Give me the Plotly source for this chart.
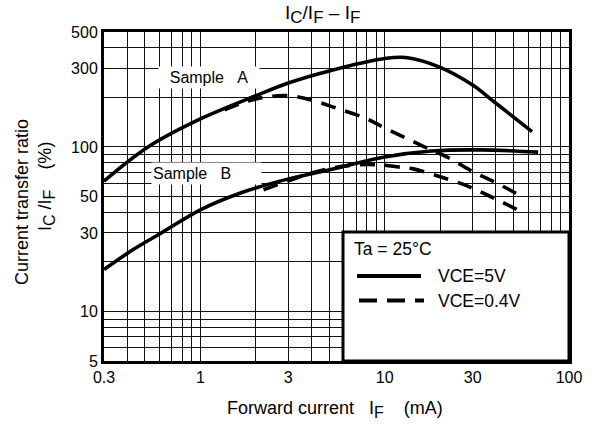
import plotly.graph_objects as go

# ---- data ----
a5_if = [0.3, 0.52, 1, 2, 3, 5, 10, 13, 20, 30, 40, 63]
a5_ratio = [62, 100, 148, 205, 245, 290, 345, 350, 305, 238, 185, 124]

a04_if = [1.35, 2, 3, 4, 5.5, 7.7, 10.1, 16.2, 22.2, 29.9, 40.9, 56]
a04_ratio = [168, 196, 205, 193, 172, 151, 130, 101, 86, 71, 60, 49.7]

b5_if = [0.3, 0.43, 0.61, 1, 1.65, 2.7, 5.1, 10, 18, 33, 68]
b5_ratio = [18, 23.7, 29.9, 41.5, 52.5, 62, 73, 87, 94.5, 96, 93]

b04_if = [2.2, 3.1, 4.1, 6.3, 9.1, 11.9, 14.3, 20, 28, 37.5, 52.5]
b04_ratio = [55, 63, 70, 77, 78, 75.6, 73.6, 66, 58, 50, 41.5]

x_ticks = [0.3, 1, 3, 10, 30, 100]
x_ticktext = ["0.3", "1", "3", "10", "30", "100"]
x_minor = [0.4, 0.5, 0.6, 0.7, 0.8, 0.9, 2, 4, 5, 6, 7, 8, 9,
           20, 40, 50, 60, 70, 80, 90]
y_ticks = [5, 10, 30, 50, 100, 300, 500]
y_ticktext = ["5", "10", "30", "50", "100", "300", "500"]
y_minor = [6, 7, 8, 9, 20, 40, 60, 70, 80, 90, 200, 400]

FONT = "Liberation Sans, Arial, sans-serif"
NB = "\u00a0"

def sub(s, size):
    return "<sub><span style='font-size:%dpx'>%s</span></sub>" % (size, s)

fig = go.Figure()
curve_w = 3.6
dash = "15px,10px"
for xs, ys, d in [(a5_if, a5_ratio, "solid"), (a04_if, a04_ratio, dash),
                  (b5_if, b5_ratio, "solid"), (b04_if, b04_ratio, dash)]:
    fig.add_trace(go.Scatter(x=xs, y=ys, mode="lines", showlegend=False,
                             line=dict(color="black", width=curve_w, dash=d,
                                       shape="spline", smoothing=1.0)))

GRID = "#111"
axis_common = dict(showline=True, linecolor="black", linewidth=3, mirror=True,
                   showgrid=True, gridcolor=GRID, gridwidth=1.3, ticks="",
                   zeroline=False, tickfont=dict(family=FONT, size=16, color="black"))
fig.update_xaxes(type="log", range=[-0.5229, 2.0], tickmode="array",
                 tickvals=x_ticks, ticktext=x_ticktext,
                 minor=dict(tickmode="array", tickvals=x_minor, showgrid=True,
                            gridcolor=GRID, gridwidth=1.3, ticks=""),
                 **axis_common)
fig.update_yaxes(type="log", range=[0.69897, 2.69897], tickmode="array",
                 tickvals=y_ticks, ticktext=y_ticktext,
                 minor=dict(tickmode="array", tickvals=y_minor, showgrid=True,
                            gridcolor=GRID, gridwidth=1.3, ticks=""),
                 **axis_common)

def px2paper(px, py):
    return (px - 104) / 465.0, 1 - (py - 32) / 329.0

shapes = []
# legend box
shapes.append(dict(type="rect", xref="paper", yref="paper", x0=0.514, x1=1.0,
                   y0=0.0, y1=0.392, fillcolor="white",
                   line=dict(color="black", width=3), layer="above"))
x0, y0 = px2paper(357, 276); x1, _ = px2paper(421, 276)
shapes.append(dict(type="line", xref="paper", yref="paper", x0=x0, x1=x1, y0=y0, y1=y0,
                   line=dict(color="black", width=4)))
x0, y0 = px2paper(359, 300.5); x1, _ = px2paper(424, 300.5)
shapes.append(dict(type="line", xref="paper", yref="paper", x0=x0, x1=x1, y0=y0, y1=y0,
                   line=dict(color="black", width=4, dash="18px,10px")))

ann = []
def text(px, py, s, size=17, xanchor="left", **kw):
    x, y = px2paper(px, py)
    ann.append(dict(xref="paper", yref="paper", x=x, y=y, text=s, showarrow=False,
                    xanchor=xanchor, yanchor="middle",
                    font=dict(family=FONT, size=size, color="black"), **kw))

text(352, 249, "Ta = 25°C", size=17.5)
text(436, 276, "VCE=5V", size=17.5)
text(436, 300.5, "VCE=0.4V", size=17.5)
text(209, 78, "Sample" + NB * 3 + "A", size=16, xanchor="center",
     bgcolor="white", width=98, height=19, align="center")
text(206.5, 173.5, "Sample" + NB * 3 + "B", size=16, xanchor="center",
     bgcolor="white", width=107, height=19, align="left")
# axis titles
text(335, 409, "Forward current" + NB * 3 + "I" + sub("F", 16) + NB * 4 + "(mA)",
     size=18, xanchor="center")
x, y = px2paper(22, 202)
ann.append(dict(xref="paper", yref="paper", x=x, y=y, text="Current transfer ratio",
                showarrow=False, textangle=-90, xanchor="center", yanchor="middle",
                font=dict(family=FONT, size=18, color="black")))
x, y = px2paper(46, 187)
ann.append(dict(xref="paper", yref="paper", x=x, y=y,
                text="I" + sub("C", 16) + " /I" + sub("F", 16) + NB * 4 + "(%)",
                showarrow=False, textangle=-90, xanchor="center", yanchor="middle",
                font=dict(family=FONT, size=18, color="black")))
# title
text(322, 15, "I" + sub("C", 17) + "/I" + sub("F", 17) + " – I" + sub("F", 17),
     size=19, xanchor="center")

fig.update_layout(width=595, height=425, margin=dict(l=104, r=26, t=32, b=64),
                  paper_bgcolor="white", plot_bgcolor="white",
                  shapes=shapes, annotations=ann, showlegend=False)
fig.write_html("out.html", config={"displayModeBar": False},
               post_script="document.body.style.margin='0px';document.body.style.padding='0px';")
